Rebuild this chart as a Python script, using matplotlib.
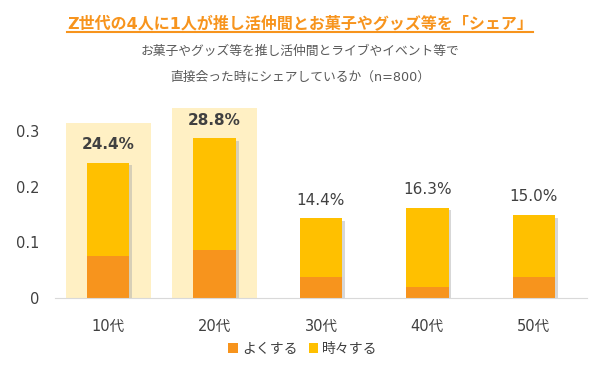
import matplotlib.pyplot as plt
from matplotlib.lines import Line2D

plt.rcParams['font.family'] = ['DejaVu Sans', 'Noto Sans CJK JP']

# データ
categories = ['10代', '20代', '30代', '40代', '50代']
often = [0.075, 0.087, 0.038, 0.019, 0.038]      # よくする
sometimes = [0.169, 0.201, 0.106, 0.144, 0.112]  # 時々する
totals = [0.244, 0.288, 0.144, 0.163, 0.150]
highlight = [0.315, 0.342, 0, 0, 0]
bold_label = [True, True, False, False, False]

c_often = '#F7941D'
c_some = '#FFC000'
c_hl = '#FFF0C4'
c_text = '#404040'

fig = plt.figure(figsize=(6, 3.65), dpi=100)
ax = fig.add_axes([0.0917, 0.1836, 0.8866, 0.5322])

x = list(range(len(categories)))

# 強調背景
ax.bar(x, highlight, width=0.8, color=c_hl, zorder=1)

# 影
shadow_h = [t - 0.003 for t in totals]
ax.bar([i + 0.025 for i in x], shadow_h, width=0.4, bottom=-0.002,
       color='#a8a8a8', alpha=0.45, zorder=2)

ax.bar(x, often, width=0.4, color=c_often, zorder=3, label='よくする')
ax.bar(x, sometimes, width=0.4, bottom=often, color=c_some, zorder=3,
       label='時々する')

for i, t in enumerate(totals):
    ax.annotate(f'{t*100:.1f}%', (i, t), xytext=(0, 13), textcoords='offset points',
                ha='center', va='center', fontsize=11, color=c_text,
                fontweight='bold' if bold_label[i] else 'normal')

ax.set_xlim(-0.5, 4.5)
ax.set_ylim(0, 0.35)
ax.set_yticks([0, 0.1, 0.2, 0.3])
ax.set_yticklabels(['0', '0.1', '0.2', '0.3'])
ax.set_xticks(x)
ax.set_xticklabels(categories)
ax.tick_params(axis='both', length=0, labelsize=10.5, labelcolor=c_text)
ax.tick_params(axis='x', pad=15)
ax.tick_params(axis='y', pad=11)
for s in ['top', 'right', 'left']:
    ax.spines[s].set_visible(False)
ax.spines['bottom'].set_color('#d9d9d9')
ax.spines['bottom'].set_zorder(4)

leg = fig.legend(loc='center', bbox_to_anchor=(0.505, 0.044), ncol=2, frameon=False,
                 fontsize=10, handlelength=0.7, handleheight=0.7, handletextpad=0.3,
                 columnspacing=0.8)
for t in leg.get_texts():
    t.set_color(c_text)

# タイトル
title = fig.text(0.5, 0.937, 'Z世代の4人に1人が推し活仲間とお菓子やグッズ等を「シェア」',
                 ha='center', va='center', fontsize=11.5, fontweight='bold',
                 color='#F7941D')
fig.text(0.5, 0.858, 'お菓子やグッズ等を推し活仲間とライブやイベント等で',
         ha='center', va='center', fontsize=9.2, color='#595959')
fig.text(0.5, 0.789, '直接会った時にシェアしているか（n=800）',
         ha='center', va='center', fontsize=9.2, color='#595959')

fig.canvas.draw()
bb = title.get_window_extent().transformed(fig.transFigure.inverted())
fig.add_artist(Line2D([bb.x0, bb.x1], [bb.y0 - 0.002, bb.y0 - 0.002],
                      transform=fig.transFigure, color='#F7941D', lw=1.5))

fig.savefig('out.png', dpi=100)
